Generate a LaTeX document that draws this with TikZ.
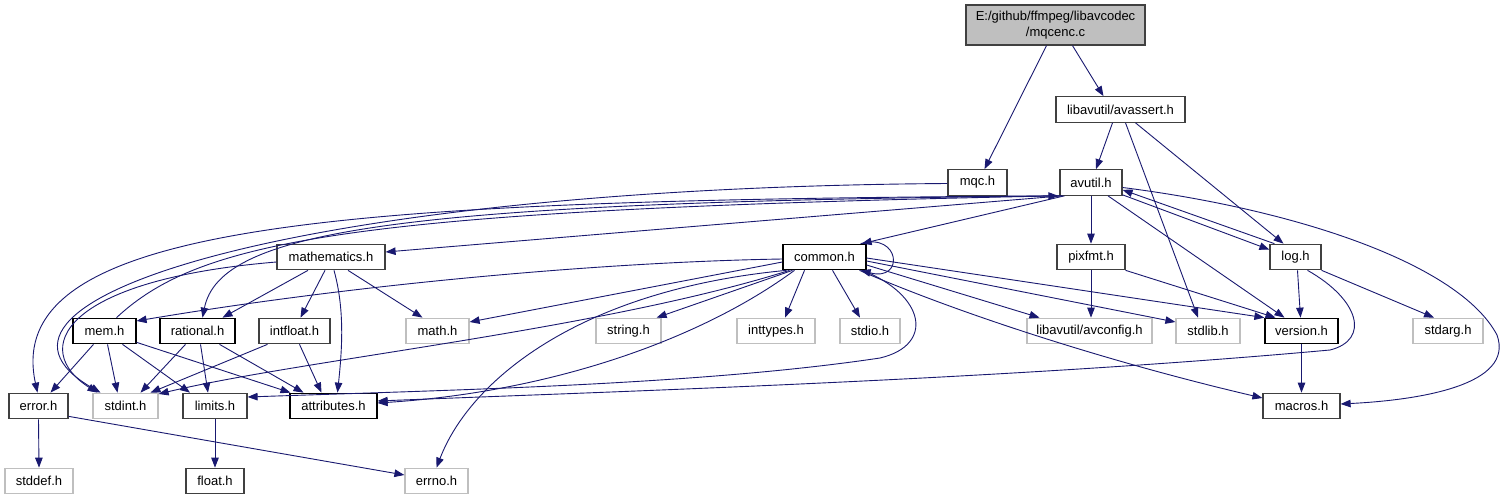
\documentclass[tikz,border=0pt]{standalone}
\usepackage{fontspec}
\setmainfont{Liberation Sans}
\usepackage{tikz}
\usetikzlibrary{arrows.meta}
\definecolor{dxEdge}{HTML}{191970}
\definecolor{dxGray}{HTML}{BFBFBF}
\definecolor{dxLine}{HTML}{404040}

\begin{document}
\begin{tikzpicture}[
  x=1pt, y=-1pt,
  >={Triangle[length=10pt,width=7.5pt]},
  hdr/.style={
    draw=dxLine,
    line width=1.2pt,
    fill=white,
    minimum height=25.5pt,
    inner sep=2pt,
    font=\fontsize{13}{15}\selectfont
  },
  sys/.style={hdr, draw=dxGray},
  edge/.style={->, draw=dxEdge, line width=0.9pt}
]
  \path[use as bounding box, fill=white] (0,0) rectangle (1508,500);

  % top rows
  \node[hdr, fill=dxGray, minimum width=179pt, minimum height=40pt, align=center]
    (mqcenc) at (1055.5,25) {E:/github/ffmpeg/libavcodec\\[1pt]/mqcenc.c};
  \node[hdr, minimum width=129pt] (avassert) at (1120.5,109.5) {libavutil/avassert.h};
  \node[hdr, minimum width=59pt] (mqc) at (977.5,182.5) {mqc.h};
  \node[hdr, minimum width=62pt] (avutil) at (1091,182.5) {avutil.h};
  \node[hdr, minimum width=108pt] (mathematics) at (331,257) {mathematics.h};
  \node[hdr, minimum width=83pt, draw=black] (common) at (824.5,257) {common.h};
  \node[hdr, minimum width=68pt] (pixfmt) at (1091,257) {pixfmt.h};
  \node[hdr, minimum width=51pt] (log) at (1295.5,257) {log.h};

  % middle row
  \node[hdr, minimum width=63pt, draw=black] (mem) at (104.5,331) {mem.h};
  \node[hdr, minimum width=75pt, draw=black] (rational) at (197.5,331) {rational.h};
  \node[hdr, minimum width=71pt] (intfloat) at (294.5,331) {intfloat.h};
  \node[sys, minimum width=63pt] (math) at (437.5,331) {math.h};
  \node[sys, minimum width=65pt] (string) at (628.5,331) {string.h};
  \node[sys, minimum width=78pt] (inttypes) at (776,331) {inttypes.h};
  \node[sys, minimum width=60pt] (stdio) at (870,331) {stdio.h};
  \node[sys, minimum width=125pt] (avconfig) at (1089.5,331) {libavutil/avconfig.h};
  \node[sys, minimum width=64pt] (stdlib) at (1208,331) {stdlib.h};
  \node[hdr, minimum width=73pt, draw=black] (version) at (1301.5,331) {version.h};
  \node[sys, minimum width=70pt] (stdarg) at (1448,331) {stdarg.h};

  % bottom rows
  \node[hdr, minimum width=59pt] (error) at (38.5,406) {error.h};
  \node[sys, minimum width=65pt] (stdint) at (125.5,406) {stdint.h};
  \node[hdr, minimum width=64pt] (limits) at (215,406) {limits.h};
  \node[hdr, minimum width=87pt, draw=black] (attributes) at (333.5,406) {attributes.h};
  \node[hdr, minimum width=77pt] (macros) at (1301.5,406) {macros.h};
  \node[sys, minimum width=68pt] (stddef) at (39,481) {stddef.h};
  \node[hdr, minimum width=58pt] (float) at (215,481) {float.h};
  \node[sys, minimum width=63pt] (errno) at (436.5,481) {errno.h};

  % mqcenc.c, avassert.h
  \draw[edge] ([xshift=-9pt]mqcenc.south) -- ([xshift=7pt]mqc.north);
  \draw[edge] ([xshift=17pt]mqcenc.south) -- ([xshift=-17pt]avassert.north);
  \draw[edge] ([xshift=-8pt]avassert.south) -- ([xshift=5pt]avutil.north);
  \draw[edge] ([xshift=5pt]avassert.south) -- ([xshift=-10pt]stdlib.north);
  \draw[edge] ([xshift=15pt]avassert.south) -- ([xshift=-12pt]log.north);

  % mqc.h
  \draw[edge] ([yshift=-1pt]mqc.west) .. controls (300,188) and (-60,300) .. ([xshift=-25pt]stdint.north);

  % avutil.h
  \draw[edge] (avutil.south) -- (pixfmt.north);
  \draw[edge] ([yshift=1pt]avutil.south east) -- ([yshift=-6pt]log.north west);
  \draw[edge] ([xshift=17pt]avutil.south) -- ([xshift=-17pt]version.north);
  \draw[edge] ([yshift=-5pt]avutil.east) .. controls (1300,210) and (1460,265) .. (1497,335)
    .. controls (1515,385) and (1420,400) .. ([yshift=2pt]macros.east);
  \draw[edge] ([xshift=5pt]avutil.south west) -- ([xshift=-5pt]common.north east);
  \draw[edge] ([xshift=3pt]avutil.south west) -- ([yshift=5pt]mathematics.east);
  \draw[edge] ([xshift=2pt]avutil.south west) .. controls (400,202) and (220,230) .. ([xshift=5pt]rational.north);
  \draw[edge] (avutil.south west) .. controls (350,200) and (0,220) .. ([xshift=-1pt]error.north);

  % log.h
  \draw[edge] ([xshift=5pt]log.north west) -- ([yshift=6pt]avutil.south east);
  \draw[edge] ([xshift=2pt]log.south) -- ([xshift=-1pt]version.north);
  \draw[edge] (log.south east) -- ([xshift=-14pt]stdarg.north);
  \draw[edge] ([xshift=12pt]log.south) .. controls (1360,300) and (1370,340) .. (1330,350)
    .. controls (1000,380) and (600,392) .. ([yshift=5pt]attributes.east);

  % pixfmt.h, version.h
  \draw[edge] (pixfmt.south) -- ([xshift=1.5pt]avconfig.north);
  \draw[edge] (pixfmt.south east) -- ([xshift=-26pt]version.north);
  \draw[edge] (version.south) -- (macros.north);

  % mathematics.h
  \draw[edge] ([yshift=-5pt]mathematics.west) .. controls (60,280) and (30,350) .. ([xshift=-28pt]stdint.north);
  \draw[edge] ([xshift=-23pt]mathematics.south) -- ([xshift=25pt]rational.north);
  \draw[edge] ([xshift=-6pt]mathematics.south) -- ([xshift=6pt]intfloat.north);
  \draw[edge] ([xshift=3pt]mathematics.south) .. controls (345,310) and (342,350) .. ([xshift=4pt]attributes.north);
  \draw[edge] ([xshift=17pt]mathematics.south) -- ([xshift=-15pt]math.north);

  % common.h
  \draw[edge] ([xshift=-6pt]common.north east) .. controls (900,232) and (905,282) .. ([xshift=-6pt]common.south east);
  \draw[edge] ([yshift=-2pt]common.west) .. controls (600,262) and (350,285) .. ([yshift=10pt]mem.east);
  \draw[edge] ([yshift=-5pt]common.west) -- ([yshift=9pt]math.east);
  \draw[edge] ([xshift=-32pt]common.south) -- ([xshift=-5pt]string.north east);
  \draw[edge] ([xshift=-20pt]common.south) -- ([xshift=9pt]inttypes.north);
  \draw[edge] ([xshift=8pt]common.south) -- ([xshift=-10pt]stdio.north);
  \draw[edge] ([yshift=-8pt]common.east) -- ([xshift=-50pt]avconfig.north);
  \draw[edge] ([yshift=-4pt]common.east) -- ([yshift=9pt]stdlib.west);
  \draw[edge] ([yshift=-1pt]common.east) -- (version.north west);
  \draw[edge] ([xshift=35pt]common.south) .. controls (950,310) and (1100,360) .. ([yshift=8pt]macros.west);
  \draw[edge] ([xshift=-35pt]common.south) .. controls (600,330) and (300,360) .. ([yshift=12pt]stdint.east);
  \draw[edge] ([xshift=-30pt]common.south) .. controls (700,340) and (550,392) .. ([yshift=3pt]attributes.east);
  \draw[edge] ([xshift=-38pt]common.south) .. controls (580,290) and (470,380) .. (errno.north);
  \draw[edge] ([xshift=38pt]common.south) .. controls (925,295) and (935,345) .. (880,358)
    .. controls (700,385) and (450,390) .. ([yshift=9pt]limits.east);

  % mem.h
  \draw[edge] ([xshift=12pt]mem.north) .. controls (200,240) and (350,210) .. ([xshift=-1pt]avutil.south west);
  \draw[edge] ([xshift=-11pt]mem.south) -- ([xshift=12pt]error.north);
  \draw[edge] ([xshift=3pt]mem.south) -- ([xshift=-8pt]stdint.north);
  \draw[edge] ([xshift=18pt]mem.south) -- ([xshift=-25pt]limits.north);
  \draw[edge] ([yshift=2pt]mem.south east) -- ([xshift=-43pt]attributes.north);

  % rational.h, intfloat.h
  \draw[edge] ([xshift=-12pt]rational.south) -- ([xshift=15pt]stdint.north);
  \draw[edge] ([xshift=3pt]rational.south) -- ([xshift=-7pt]limits.north);
  \draw[edge] ([xshift=22pt]rational.south) -- ([xshift=-30pt]attributes.north);
  \draw[edge] ([xshift=-27pt]intfloat.south) -- ([xshift=25pt]stdint.north);
  \draw[edge] ([xshift=5pt]intfloat.south) -- ([xshift=-12pt]attributes.north);

  % error.h, limits.h
  \draw[edge] (error.south) -- (stddef.north);
  \draw[edge] ([yshift=3pt]error.south east) -- ([yshift=6pt]errno.west);
  \draw[edge] (limits.south) -- (float.north);
\end{tikzpicture}
\end{document}
